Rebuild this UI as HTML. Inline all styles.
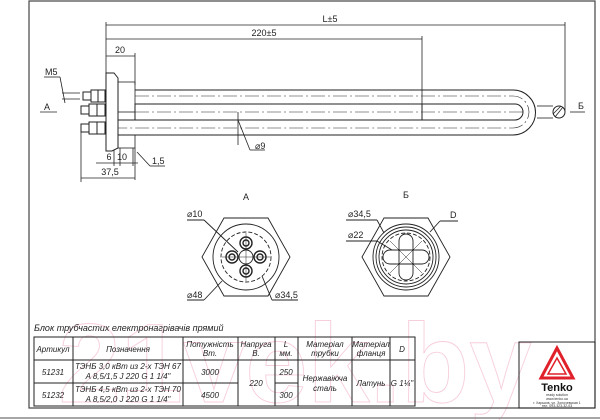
<!DOCTYPE html>
<html><head><meta charset="utf-8"><style>
html,body{margin:0;padding:0;background:#fff;}
svg{display:block;font-family:"Liberation Sans",sans-serif;}
</style></head><body>
<svg width="600" height="420" viewBox="0 0 600 420" xmlns="http://www.w3.org/2000/svg">
<rect x="0" y="0" width="600" height="420" fill="#fff"/>
<!-- watermark -->
<text x="295" y="402" font-size="112" font-weight="bold" text-anchor="middle" fill="none" stroke="#f7cfdb" stroke-width="0.9">21vek.by</text>
<!-- frame -->
<rect x="29" y="1" width="566" height="407" fill="none" stroke="#444" stroke-width="1.2"/>
<line x1="0" y1="418" x2="600" y2="418" stroke="#888" stroke-width="1.5"/>

<g stroke="#222" fill="none" stroke-width="0.8">
 <line x1="106" y1="25" x2="565" y2="25"/>
 <line x1="106" y1="39" x2="422" y2="39"/>
 <line x1="106" y1="56" x2="135" y2="56"/>
 <line x1="106" y1="22" x2="106" y2="75"/>
 <line x1="565" y1="22" x2="565" y2="112"/>
 <line x1="422" y1="36" x2="422" y2="120"/>
 <line x1="135" y1="53" x2="135" y2="85"/>
 <path d="M106 73 L114 73 L118 78 L118 148 L112 151 L106 151 Z" stroke-width="1"/>
 <rect x="118" y="82" width="17" height="30"/>
 <rect x="118" y="135" width="17" height="13"/>
 <path d="M135 90 L513 90 A22.5 22.5 0 0 1 513 135 L118 135" stroke-width="1"/>
 <path d="M135 104 L515 104 A8 8 0 0 1 515 120 L118 120" stroke-width="1"/>
 <path d="M135 96 L513 96 A16 16 0 0 1 513 128 L118 128" stroke-dasharray="14 3 2 3" stroke-width="0.6"/>
 <line x1="135" y1="112" x2="523" y2="112" stroke-dasharray="14 3 2 3" stroke-width="0.6"/>
 <rect x="135" y="104" width="287" height="16" stroke-width="1"/>
 <line x1="537" y1="106" x2="553" y2="106"/>
 <line x1="537" y1="118" x2="553" y2="118"/>
 <circle cx="559" cy="112" r="6" stroke-width="1"/>
 <line x1="555" y1="117" x2="563" y2="107"/>
 <line x1="553" y1="114" x2="561" y2="106"/>
 <line x1="570" y1="112" x2="585" y2="112"/>
 <g stroke-width="1">
  <rect x="83" y="92" width="8" height="8"/><rect x="91" y="90" width="7" height="12"/><rect x="98" y="90" width="7" height="12"/>
  <rect x="81" y="106" width="8" height="8"/><rect x="89" y="104" width="8" height="12"/><rect x="97" y="104" width="8" height="12"/>
  <rect x="81" y="124" width="8" height="8"/><rect x="89" y="122" width="8" height="12"/><rect x="97" y="122" width="8" height="12"/>
 </g>
 <line x1="40" y1="112" x2="57" y2="112"/>
 <line x1="44" y1="77" x2="60" y2="77"/><line x1="60" y1="77" x2="65" y2="103"/>
 <line x1="62" y1="93" x2="80" y2="93"/><line x1="62" y1="99" x2="80" y2="99"/>
 <line x1="81" y1="132" x2="81" y2="182"/>
 <line x1="81" y1="178" x2="135" y2="178"/>
 <line x1="96" y1="163" x2="138" y2="163"/>
 <line x1="114" y1="150" x2="114" y2="166"/><line x1="120" y1="148" x2="120" y2="166"/><line x1="133" y1="148" x2="133" y2="166"/><line x1="135" y1="148" x2="135" y2="180"/>
 <line x1="137" y1="152" x2="150" y2="166"/><line x1="150" y1="166" x2="165" y2="166"/>
 <line x1="238" y1="112" x2="238" y2="145"/><line x1="238" y1="120" x2="250" y2="150"/><line x1="250" y1="150" x2="265" y2="150"/>
</g>
<g font-size="9" fill="#222">
 <text x="330" y="22" text-anchor="middle">L±5</text>
 <text x="264" y="36" text-anchor="middle">220±5</text>
 <text x="120" y="53" text-anchor="middle">20</text>
 <text x="45" y="75">M5</text>
 <text x="44" y="110">A</text>
 <text x="578" y="109">Б</text>
 <text x="109" y="160" text-anchor="middle">6</text>
 <text x="122" y="160" text-anchor="middle">10</text>
 <text x="152" y="164">1,5</text>
 <text x="110" y="175" text-anchor="middle">37,5</text>
 <text x="255" y="149">⌀9</text>
 <text x="246" y="200" text-anchor="middle">A</text>
 <text x="406" y="198" text-anchor="middle">Б</text>
 <text x="187" y="217">⌀10</text>
 <text x="187" y="298">⌀48</text>
 <text x="275" y="298">⌀34,5</text>
 <text x="348" y="217">⌀34,5</text>
 <text x="348" y="238">⌀22</text>
 <text x="450" y="218">D</text>
</g>
<g stroke="#222" fill="none" stroke-width="0.9">
 <polygon points="202,257 224,218 268,218 290,257 268,296 224,296"/>
 <circle cx="246" cy="257" r="33"/>
 <circle cx="246" cy="257" r="25" stroke-dasharray="4 2"/>
 <circle cx="246" cy="257" r="7"/>
 <g stroke-width="1.4">
  <circle cx="246" cy="243" r="6"/><circle cx="246" cy="243" r="3"/>
  <circle cx="246" cy="271" r="6"/><circle cx="246" cy="271" r="3"/>
  <circle cx="232" cy="257" r="6"/><circle cx="232" cy="257" r="3"/>
  <circle cx="260" cy="257" r="6"/><circle cx="260" cy="257" r="3"/>
 </g>
 <line x1="222" y1="257" x2="270" y2="257" stroke-width="0.5"/>
 <line x1="246" y1="233" x2="246" y2="281" stroke-width="0.5"/>
 <line x1="187" y1="220" x2="204" y2="220"/><line x1="204" y1="220" x2="238" y2="252"/>
 <line x1="187" y1="300" x2="204" y2="300"/><line x1="204" y1="300" x2="222" y2="281"/>
 <line x1="272" y1="300" x2="298" y2="300"/><line x1="272" y1="300" x2="262" y2="276"/>
</g>
<g stroke="#222" fill="none" stroke-width="0.9">
 <polygon points="362,257 384,218 428,218 450,257 428,296 384,296"/>
 <circle cx="406" cy="257" r="33"/>
 <circle cx="406" cy="257" r="30"/>
 <circle cx="406" cy="257" r="27"/>
 <circle cx="406" cy="257" r="24" stroke-dasharray="4 2"/>
 <rect x="383" y="250" width="46" height="14" rx="7"/>
 <rect x="399" y="234" width="14" height="46" rx="7"/>
 <line x1="390" y1="241" x2="422" y2="273" stroke-width="0.5"/>
 <line x1="422" y1="241" x2="390" y2="273" stroke-width="0.5"/>
 <line x1="346" y1="220" x2="377" y2="220"/><line x1="377" y1="220" x2="384" y2="233"/>
 <line x1="346" y1="241" x2="377" y2="241"/><line x1="377" y1="241" x2="392" y2="250"/>
 <line x1="440" y1="221" x2="458" y2="221"/><line x1="440" y1="221" x2="430" y2="232"/>
</g>
<text x="34" y="331" font-size="9" font-style="italic" fill="#222">Блок трубчастих електронагрівачів прямий</text>
<g stroke="#222" stroke-width="1" fill="none">
 <rect x="34" y="337" width="381" height="69"/>
 <line x1="34" y1="360" x2="415" y2="360"/>
 <line x1="34" y1="383" x2="238" y2="383"/>
 <line x1="275" y1="383" x2="298" y2="383"/>
 <line x1="73" y1="337" x2="73" y2="406"/>
 <line x1="183" y1="337" x2="183" y2="406"/>
 <line x1="238" y1="337" x2="238" y2="406"/>
 <line x1="275" y1="337" x2="275" y2="406"/>
 <line x1="298" y1="337" x2="298" y2="406"/>
 <line x1="352" y1="337" x2="352" y2="406"/>
 <line x1="390" y1="337" x2="390" y2="406"/>
</g>
<g font-size="8" fill="#222" text-anchor="middle" font-style="italic">
 <text x="53" y="352">Артикул</text>
 <text x="128" y="352">Позначення</text>
 <text x="210" y="347">Потужність</text><text x="210" y="356">Вт.</text>
 <text x="256" y="347">Напруга</text><text x="256" y="356">В.</text>
 <text x="286" y="347">L</text><text x="286" y="356">мм.</text>
 <text x="325" y="347">Матеріал</text><text x="325" y="356">трубки</text>
 <text x="371" y="347">Матеріал</text><text x="371" y="356">фланця</text>
 <text x="402" y="352">D</text>
 <text x="53" y="375">51231</text>
 <text x="128" y="369">ТЭНБ 3,0 кВт из 2-х ТЭН 67</text>
 <text x="128" y="379">A 8,5/1,5 J 220 G 1 1/4"</text>
 <text x="53" y="398">51232</text>
 <text x="128" y="392">ТЭНБ 4,5 кВт из 2-х ТЭН 70</text>
 <text x="128" y="402">A 8,5/2,0 J 220 G 1 1/4"</text>
 <text x="210" y="375">3000</text>
 <text x="210" y="398">4500</text>
 <text x="256" y="386">220</text>
 <text x="286" y="375">250</text>
 <text x="286" y="398">300</text>
 <text x="325" y="381">Нержавіюча</text><text x="325" y="391">сталь</text>
 <text x="371" y="386">Латунь</text>
 <text x="402" y="386">G 1¼"</text>
</g>
<rect x="519" y="342" width="76" height="66" fill="none" stroke="#222" stroke-width="1"/>
<polygon points="557,348 541,378 573,378" fill="none" stroke="#e0202a" stroke-width="3"/>
<polygon points="557,358 548,374 566,374" fill="none" stroke="#e0202a" stroke-width="1.5"/>
<text x="557" y="391" font-size="11" font-weight="bold" text-anchor="middle" fill="#111">Tenko</text>
<g font-size="3.5" fill="#333" text-anchor="middle">
 <text x="557" y="396">ready solution</text>
 <text x="557" y="400">www.tenko.ua</text>
 <text x="557" y="404">г. Харьков, ул. Золочевская 1</text>
 <text x="557" y="407">тел. 093-323-32-03</text>
</g>
</svg>
</body></html>
